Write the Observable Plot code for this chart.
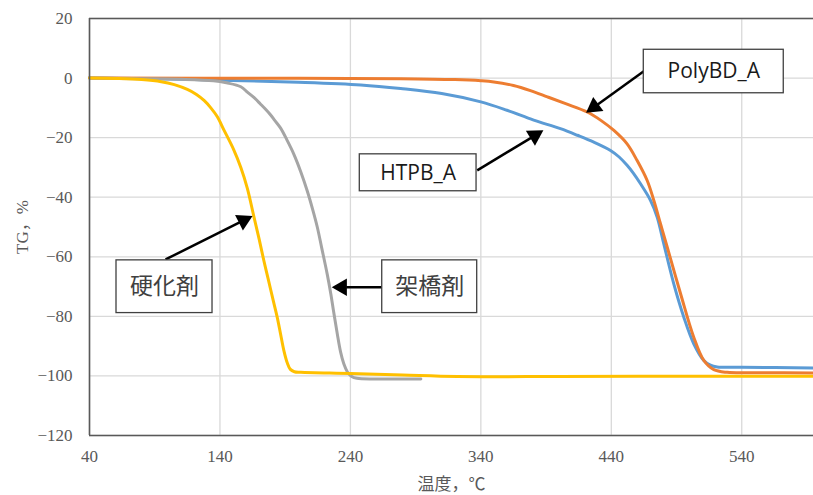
<!DOCTYPE html>
<html>
<head>
<meta charset="utf-8">
<script src="https://cdn.jsdelivr.net/npm/d3@7"></script>
<script src="https://cdn.jsdelivr.net/npm/@observablehq/plot@0.6"></script>
<style>
  html, body { margin: 0; padding: 0; background: #fff; }
  #chart { width: 813px; height: 495px; }
</style>
</head>
<body>
<div id="chart"></div>
<script>
// ---- data ----
const xTicks = [40, 140, 240, 340, 440, 540];
const yTicks = [20, 0, -20, -40, -60, -80, -100, -120];
const xTitle = "温度，℃";
const yTitle = "TG，%";

// 硬化剤 (yellow)
const curingT = [40, 60, 80, 95, 105, 115, 122, 128, 133, 138, 143, 150.5, 156, 161, 166, 170, 173.5, 177, 181, 184, 186.5, 189, 191.5, 194, 197, 202, 240, 280, 322, 400, 500, 595];
const curingV = [0, -0.15, -0.5, -1.2, -2.2, -3.8, -5.5, -7.6, -10, -13, -17.4, -24, -30, -37, -46.5, -54, -61, -67.5, -75, -80.5, -86, -91.5, -95.5, -97.8, -98.6, -98.8, -99.2, -99.7, -100.2, -100.2, -100.1, -100.1];

// 架橋剤 (gray)
const crossT = [40, 80, 110, 135, 145, 156, 161, 166, 171, 175, 178.7, 182, 186.5, 191.5, 196.6, 202, 207, 211, 214.6, 218, 222.3, 225, 227, 230, 232.5, 235, 237.6, 241, 245, 260, 294];
const crossV = [0, -0.2, -0.4, -0.9, -1.6, -2.9, -4.7, -6.5, -8.7, -10.5, -12.3, -14.2, -16.8, -20.9, -25.5, -31.5, -38, -44, -50, -57, -66, -72.5, -78, -86, -92, -96, -98.6, -100.2, -100.8, -101, -101];

// HTPB_A (blue)
const htpbT = [40, 100, 140, 200, 248, 278.5, 310, 340, 360, 380.5, 401, 414, 426.6, 439.4, 446, 452.1, 457, 462.4, 470.1, 475.2, 480.2, 487.9, 495.6, 503.2, 510.9, 516, 521.2, 540, 595];
const htpbV = [0, -0.3, -0.7, -1.4, -2.3, -3.5, -5.2, -8, -10.8, -14.1, -17, -19.2, -21.5, -24.3, -26.5, -29.3, -32, -35.5, -41.1, -46.7, -55.6, -69.1, -80.3, -89.2, -94.8, -96.4, -97, -97.1, -97.3];

// PolyBD_A (orange)
const polyT = [40, 200, 278.5, 320, 340, 350, 365, 378, 391, 405, 421.5, 432, 442, 452.1, 459.8, 467.5, 472.6, 477.7, 482.9, 493.1, 503.2, 510.9, 518.6, 528.8, 554.5, 595];
const polyV = [0, -0.1, -0.2, -0.5, -0.9, -1.3, -2.5, -4.2, -6.3, -8.6, -11.4, -14.2, -17.6, -22.1, -27.7, -34.4, -41.1, -48.9, -56.8, -72.4, -87, -94.8, -97.9, -98.8, -98.9, -99];

const seriesNames = ["HTPB_A", "PolyBD_A", "架橋剤", "硬化剤"];
const seriesColors = ["#5b9bd5", "#ed7d31", "#a5a5a5", "#ffc000"];

// annotation callouts (box in data units, arrow from box to curve)
const noteLabels = ["PolyBD_A", "HTPB_A", "硬化剤", "架橋剤"];
const noteX1 = [464.9, 247.2, 60.7, 264.4];
const noteX2 = [572.2, 336.7, 134.3, 337.2];
const noteY1 = [9.5, -25.6, -61.2, -61.2];
const noteY2 = [-5.1, -38.0, -78.9, -78.9];
const arrowFromX = [464.9, 337.2, 98.3, 264.4];
const arrowFromY = [2.3, -31.0, -60.9, -70.2];
const arrowToX = [421.5, 387, 164, 226.8];
const arrowToY = [-11.4, -17.8, -46.5, -70.2];

// ---- layout ----
const W = 813, H = 495, mL = 89, mR = 0, mT = 18, mB = 60;
const xDomain = [40, 595], yDomain = [-120, 20];
const kx = (W - mL - mR) / (xDomain[1] - xDomain[0]);   // px per x unit
const ky = (H - mT - mB) / (yDomain[1] - yDomain[0]);   // px per y unit

// ---- build tables ----
const seriesT = [htpbT, polyT, crossT, curingT];
const seriesV = [htpbV, polyV, crossV, curingV];
const lines = [];
seriesNames.forEach((name, i) => {
  seriesT[i].forEach((t, j) => lines.push({name, t, v: seriesV[i][j]}));
});
const headLen = 13;  // px
const notes = noteLabels.map((label, i) => {
  const dxp = (arrowToX[i] - arrowFromX[i]) * kx;
  const dyp = -(arrowToY[i] - arrowFromY[i]) * ky;
  const len = Math.hypot(dxp, dyp);
  const ux = dxp / len, uy = dyp / len;
  const baseX = arrowToX[i] - ux * headLen / kx, baseY = arrowToY[i] + uy * headLen / ky;
  const cX = arrowToX[i] - ux * (headLen * 2 / 3) / kx, cY = arrowToY[i] + uy * (headLen * 2 / 3) / ky;
  return {
    label, x1: noteX1[i], x2: noteX2[i], y1: noteY1[i], y2: noteY2[i],
    cx: (noteX1[i] + noteX2[i]) / 2, cy: (noteY1[i] + noteY2[i]) / 2,
    ax1: arrowFromX[i], ay1: arrowFromY[i], bx: baseX, by: baseY, hx: cX, hy: cY,
    rot: Math.atan2(ux, -uy) * 180 / Math.PI,
    cjk: /[^\x00-\x7f]/.test(label)
  };
});

const plot = Plot.plot({
  width: W,
  height: H,
  marginLeft: mL,
  marginRight: mR,
  marginTop: mT,
  marginBottom: mB,
  style: {fontFamily: "'Liberation Serif', 'Noto Sans CJK JP', serif", fontSize: "17px", color: "#595959", background: "#fff"},
  x: {domain: xDomain},
  y: {domain: yDomain},
  color: {domain: seriesNames, range: seriesColors},
  marks: [
    Plot.gridX(xTicks, {stroke: "#d9d9d9", strokeOpacity: 1, strokeWidth: 1.3}),
    Plot.gridY(yTicks, {stroke: "#d9d9d9", strokeOpacity: 1, strokeWidth: 1.3}),
    Plot.axisX({ticks: xTicks, tickSize: 0, tickPadding: 14, fontSize: 17, label: xTitle, labelAnchor: "center", labelOffset: 54, labelArrow: false}),
    Plot.axisY({ticks: yTicks, tickSize: 0, tickPadding: 17, fontSize: 17, label: yTitle, labelAnchor: "center", labelOffset: 74, labelArrow: false}),
    Plot.line(lines, {x: "t", y: "v", z: "name", stroke: "name", strokeWidth: 3, curve: "catmull-rom"}),
    Plot.ruleX([40], {stroke: "#595959", strokeWidth: 1.6}),
    Plot.ruleY([20, -120], {stroke: "#595959", strokeWidth: 1.6}),
    Plot.link(notes, {x1: "ax1", y1: "ay1", x2: "bx", y2: "by", stroke: "#000", strokeWidth: 2.5}),
    Plot.dot(notes, {x: "hx", y: "hy", symbol: "triangle", r: 6.5, rotate: "rot", fill: "#000", stroke: "none"}),
    Plot.rect(notes, {x1: "x1", x2: "x2", y1: "y1", y2: "y2", fill: "#fff", stroke: "#404040", strokeWidth: 1.3}),
    Plot.text(notes.filter(d => !d.cjk), {x: "cx", y: "cy", text: "label", fontFamily: "'Open Sans', sans-serif", fontSize: 21, fill: "#1a1a1a"}),
    Plot.text(notes.filter(d => d.cjk), {x: "cx", y: "cy", text: "label", fontFamily: "'Noto Sans CJK JP', sans-serif", fontSize: 23, fill: "#404040"})
  ]
});
document.getElementById("chart").appendChild(plot);
</script>
</body>
</html>
